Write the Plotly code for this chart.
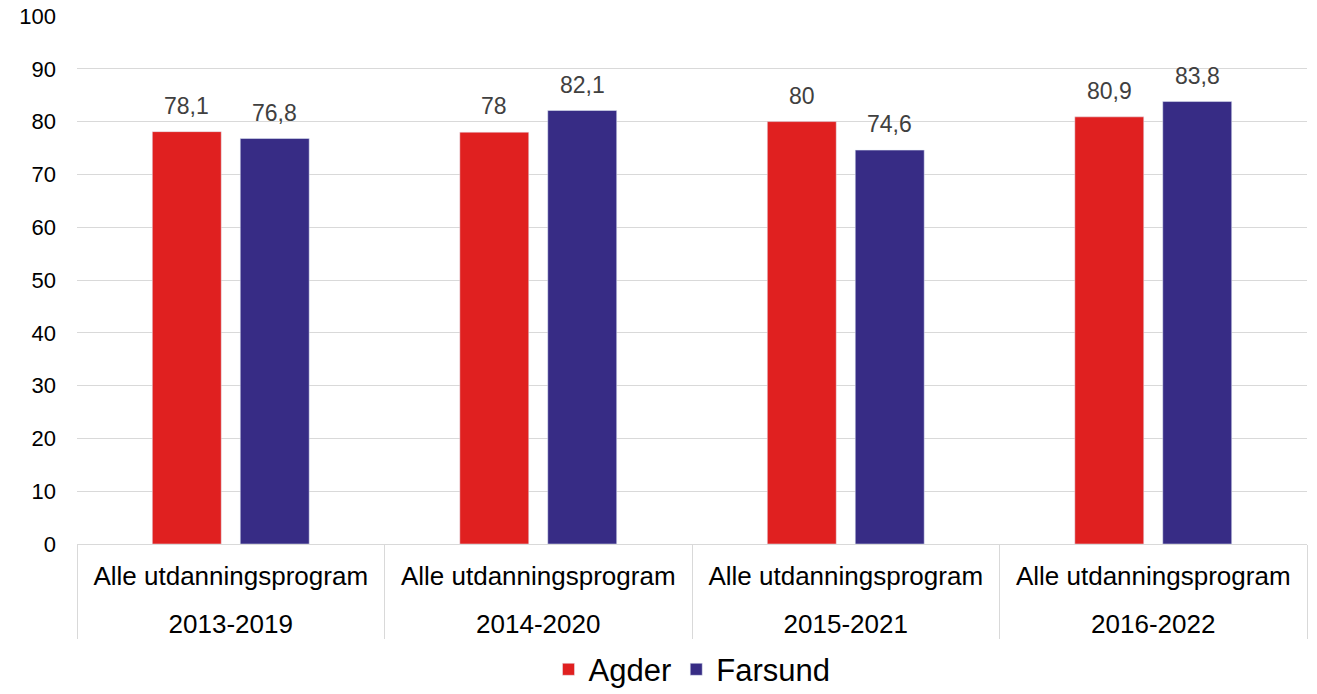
import plotly.graph_objects as go

perioder = ["2013-2019", "2014-2020", "2015-2021", "2016-2022"]
program = ["Alle utdanningsprogram"] * 4
agder = [78.1, 78.0, 80.0, 80.9]
farsund = [76.8, 82.1, 74.6, 83.8]

def fmt(v):
    return f"{v:g}".replace(".", ",")

fig = go.Figure()
fig.add_trace(go.Bar(x=perioder, y=agder, name="Agder", marker=dict(color="#E02020")))
fig.add_trace(go.Bar(x=perioder, y=farsund, name="Farsund", marker=dict(color="#372C85")))
# invisible trace so the second (period) axis gets its categories
fig.add_trace(go.Scatter(
    x=perioder, y=[None] * 4, xaxis="x2", showlegend=False, hoverinfo="skip",
))

# data labels sit a bit higher above the bars than plotly's own bar text
for vals, shift in [(agder, -44), (farsund, 44)]:
    for p, v in zip(perioder, vals):
        fig.add_annotation(x=p, y=v, text=fmt(v), showarrow=False, xshift=shift,
                           yanchor="bottom", yshift=11,
                           font=dict(size=23, color="#404040"))

fig.update_layout(
    width=1317, height=694,
    paper_bgcolor="white", plot_bgcolor="white",
    font=dict(family="Liberation Sans, Arial", size=22, color="black"),
    margin=dict(l=77, r=10, t=16, b=150),
    barmode="group", bargap=0.428, bargroupgap=0.216,
    legend=dict(orientation="h", x=0.5, xanchor="center", yref="container",
                y=0.074, yanchor="top", font=dict(size=31), traceorder="normal"),
    xaxis=dict(type="category", categoryarray=perioder, tickvals=perioder, ticktext=program,
               showline=True, linecolor="#D9D9D9", linewidth=1,
               ticks="", tickfont=dict(size=26), ticklabelstandoff=9, automargin=False),
    xaxis2=dict(type="category", categoryarray=perioder, overlaying="x", matches="x",
                side="bottom", anchor="y", showgrid=False, showline=False,
                ticks="outside", tickson="boundaries", ticklen=94, tickcolor="#D9D9D9",
                tickwidth=1, tickfont=dict(size=26), ticklabelstandoff=62,
                automargin=False),
    yaxis=dict(range=[0, 100], dtick=10, showgrid=True, gridcolor="#D9D9D9",
               gridwidth=1, zeroline=False, showline=False, ticks="",
               tickfont=dict(size=22), ticklabelstandoff=20, automargin=False),
)

fig.write_html("out.html", config={"displayModeBar": False},
               post_script="document.body.style.margin='0';")
